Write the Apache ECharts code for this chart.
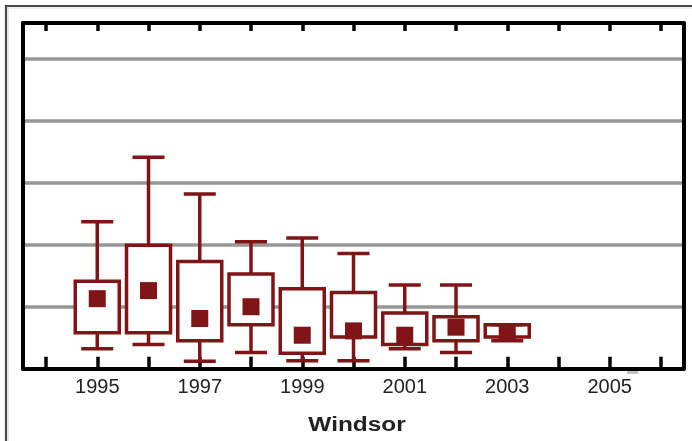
<!DOCTYPE html>
<html>
<head>
<meta charset="utf-8">
<script src="https://cdn.jsdelivr.net/npm/echarts@6/dist/echarts.min.js"></script>
<style>html,body{margin:0;padding:0;background:#fff;}#chart{width:692px;height:441px;}</style>
</head>
<body>
<div id="chart"></div>
<script>
// Data (arbitrary units; grid lines every 10 units)
var years = [1995, 1996, 1997, 1998, 1999, 2000, 2001, 2002, 2003];
var lowValues  = [3.2, 3.9, 1.2, 2.6, 1.3, 1.3, 3.2, 2.6, 4.5];
var q1Values   = [5.8, 5.8, 4.5, 7.1, 2.5, 5.1, 3.9, 4.5, 5.1];
var midValues  = [11.3, 12.6, 8.1, 10.0, 5.4, 6.1, 5.4, 6.7, 6.0];
var q3Values   = [14.1, 19.9, 17.3, 15.3, 12.9, 12.3, 9.0, 8.4, 7.1];
var highValues = [23.7, 34.1, 28.2, 20.5, 21.1, 18.6, 13.5, 13.5, 7.1];
var tickYears  = [1994, 1995, 1996, 1997, 1998, 1999, 2000, 2001, 2002, 2003, 2004, 2005, 2006];
var labelYears = [1995, 1997, 1999, 2001, 2003, 2005];
var chartTitle = 'Windsor';

var COLOR = '#801416';
var boxData = years.map(function (y, i) {
  return [y, lowValues[i], q1Values[i], midValues[i], q3Values[i], highValues[i]];
});

var chart = echarts.init(document.getElementById('chart'), null, {renderer: 'canvas'});
var xMin = 1993.551, xMax = 2006.443, yMin = 0, yMax = 55.78;

function xAxisBase(pos) {
  return {
    type: 'value', position: pos, min: xMin, max: xMax,
    axisLine: {show: true, onZero: false, lineStyle: {color: '#000', width: 4}},
    splitLine: {show: false}
  };
}
var xBottom = xAxisBase('bottom');
xBottom.axisTick = {show: true, inside: true, length: 12, customValues: tickYears, lineStyle: {color: '#000', width: 3.5}};
xBottom.axisLabel = {show: true, customValues: labelYears, fontSize: 20, color: '#222',
  fontFamily: 'Liberation Sans, Arial, sans-serif', margin: 9,
  formatter: function (v) { return String(Math.round(v)); }};
var xTop = xAxisBase('top');
xTop.axisTick = {show: true, inside: true, length: 8, customValues: tickYears, lineStyle: {color: '#000', width: 3.5}};
xTop.axisLabel = {show: false};

chart.setOption({
  animation: false,
  backgroundColor: '#fff',
  grid: {left: 23, top: 23, right: 8.3, bottom: 72.3, containLabel: false},
  xAxis: [xBottom, xTop],
  yAxis: [{
    type: 'value', position: 'left', min: yMin, max: yMax, interval: 10,
    axisLine: {show: true, onZero: false, lineStyle: {color: '#000', width: 4}},
    axisTick: {show: false}, axisLabel: {show: false},
    splitLine: {show: true, lineStyle: {color: '#979797', width: 3.5}}
  }, {
    type: 'value', position: 'right', min: yMin, max: yMax, interval: 10,
    axisLine: {show: true, onZero: false, lineStyle: {color: '#000', width: 4}},
    axisTick: {show: false}, axisLabel: {show: false}, splitLine: {show: false}
  }],
  graphic: [
    {type: 'rect', shape: {x: 6, y: 6, width: 800, height: 800}, style: {fill: null, stroke: '#4a4a4a', lineWidth: 2.2}, z: 100},
    {type: 'rect', shape: {x: 8, y: 8, width: 800, height: 800}, style: {fill: null, stroke: '#d8d8d8', lineWidth: 1}, z: 100},
    {type: 'rect', shape: {x: 627, y: 371, width: 11, height: 3}, style: {fill: '#c4c4c4'}, z: 100},
    {type: 'text', x: 357, y: 425, scaleX: 1.22, originX: 0, originY: 0,
     style: {text: chartTitle, font: 'bold 20px "Liberation Sans", Arial, sans-serif', fill: '#222', align: 'center', verticalAlign: 'middle'}, z: 100}
  ],
  series: [{
    type: 'custom',
    xAxisIndex: 0, yAxisIndex: 0,
    data: boxData,
    clip: false,
    z: 10,
    renderItem: function (params, api) {
      var x = api.value(0);
      var pLow = api.coord([x, api.value(1)]);
      var pQ1 = api.coord([x, api.value(2)]);
      var pMid = api.coord([x, api.value(3)]);
      var pQ3 = api.coord([x, api.value(4)]);
      var pHigh = api.coord([x, api.value(5)]);
      var bw = 44, cw = 32, sq = 17, lw = 3.5;
      var ls = {stroke: COLOR, lineWidth: lw, fill: null};
      var cx = pMid[0];
      return {
        type: 'group',
        children: [
          {type: 'line', shape: {x1: cx, y1: pHigh[1], x2: cx, y2: pQ3[1]}, style: ls},
          {type: 'line', shape: {x1: cx, y1: pQ1[1], x2: cx, y2: pLow[1]}, style: ls},
          {type: 'rect', shape: {x: cx - bw / 2, y: pQ3[1], width: bw, height: pQ1[1] - pQ3[1]}, style: {stroke: COLOR, lineWidth: lw, fill: '#fff'}},
          {type: 'line', shape: {x1: cx - cw / 2, y1: pHigh[1], x2: cx + cw / 2, y2: pHigh[1]}, style: ls},
          {type: 'line', shape: {x1: cx - cw / 2, y1: pLow[1], x2: cx + cw / 2, y2: pLow[1]}, style: ls},
          {type: 'rect', shape: {x: cx - sq / 2, y: pMid[1] - sq / 2, width: sq, height: sq}, style: {fill: COLOR}}
        ]
      };
    }
  }]
});
</script>
</body>
</html>
